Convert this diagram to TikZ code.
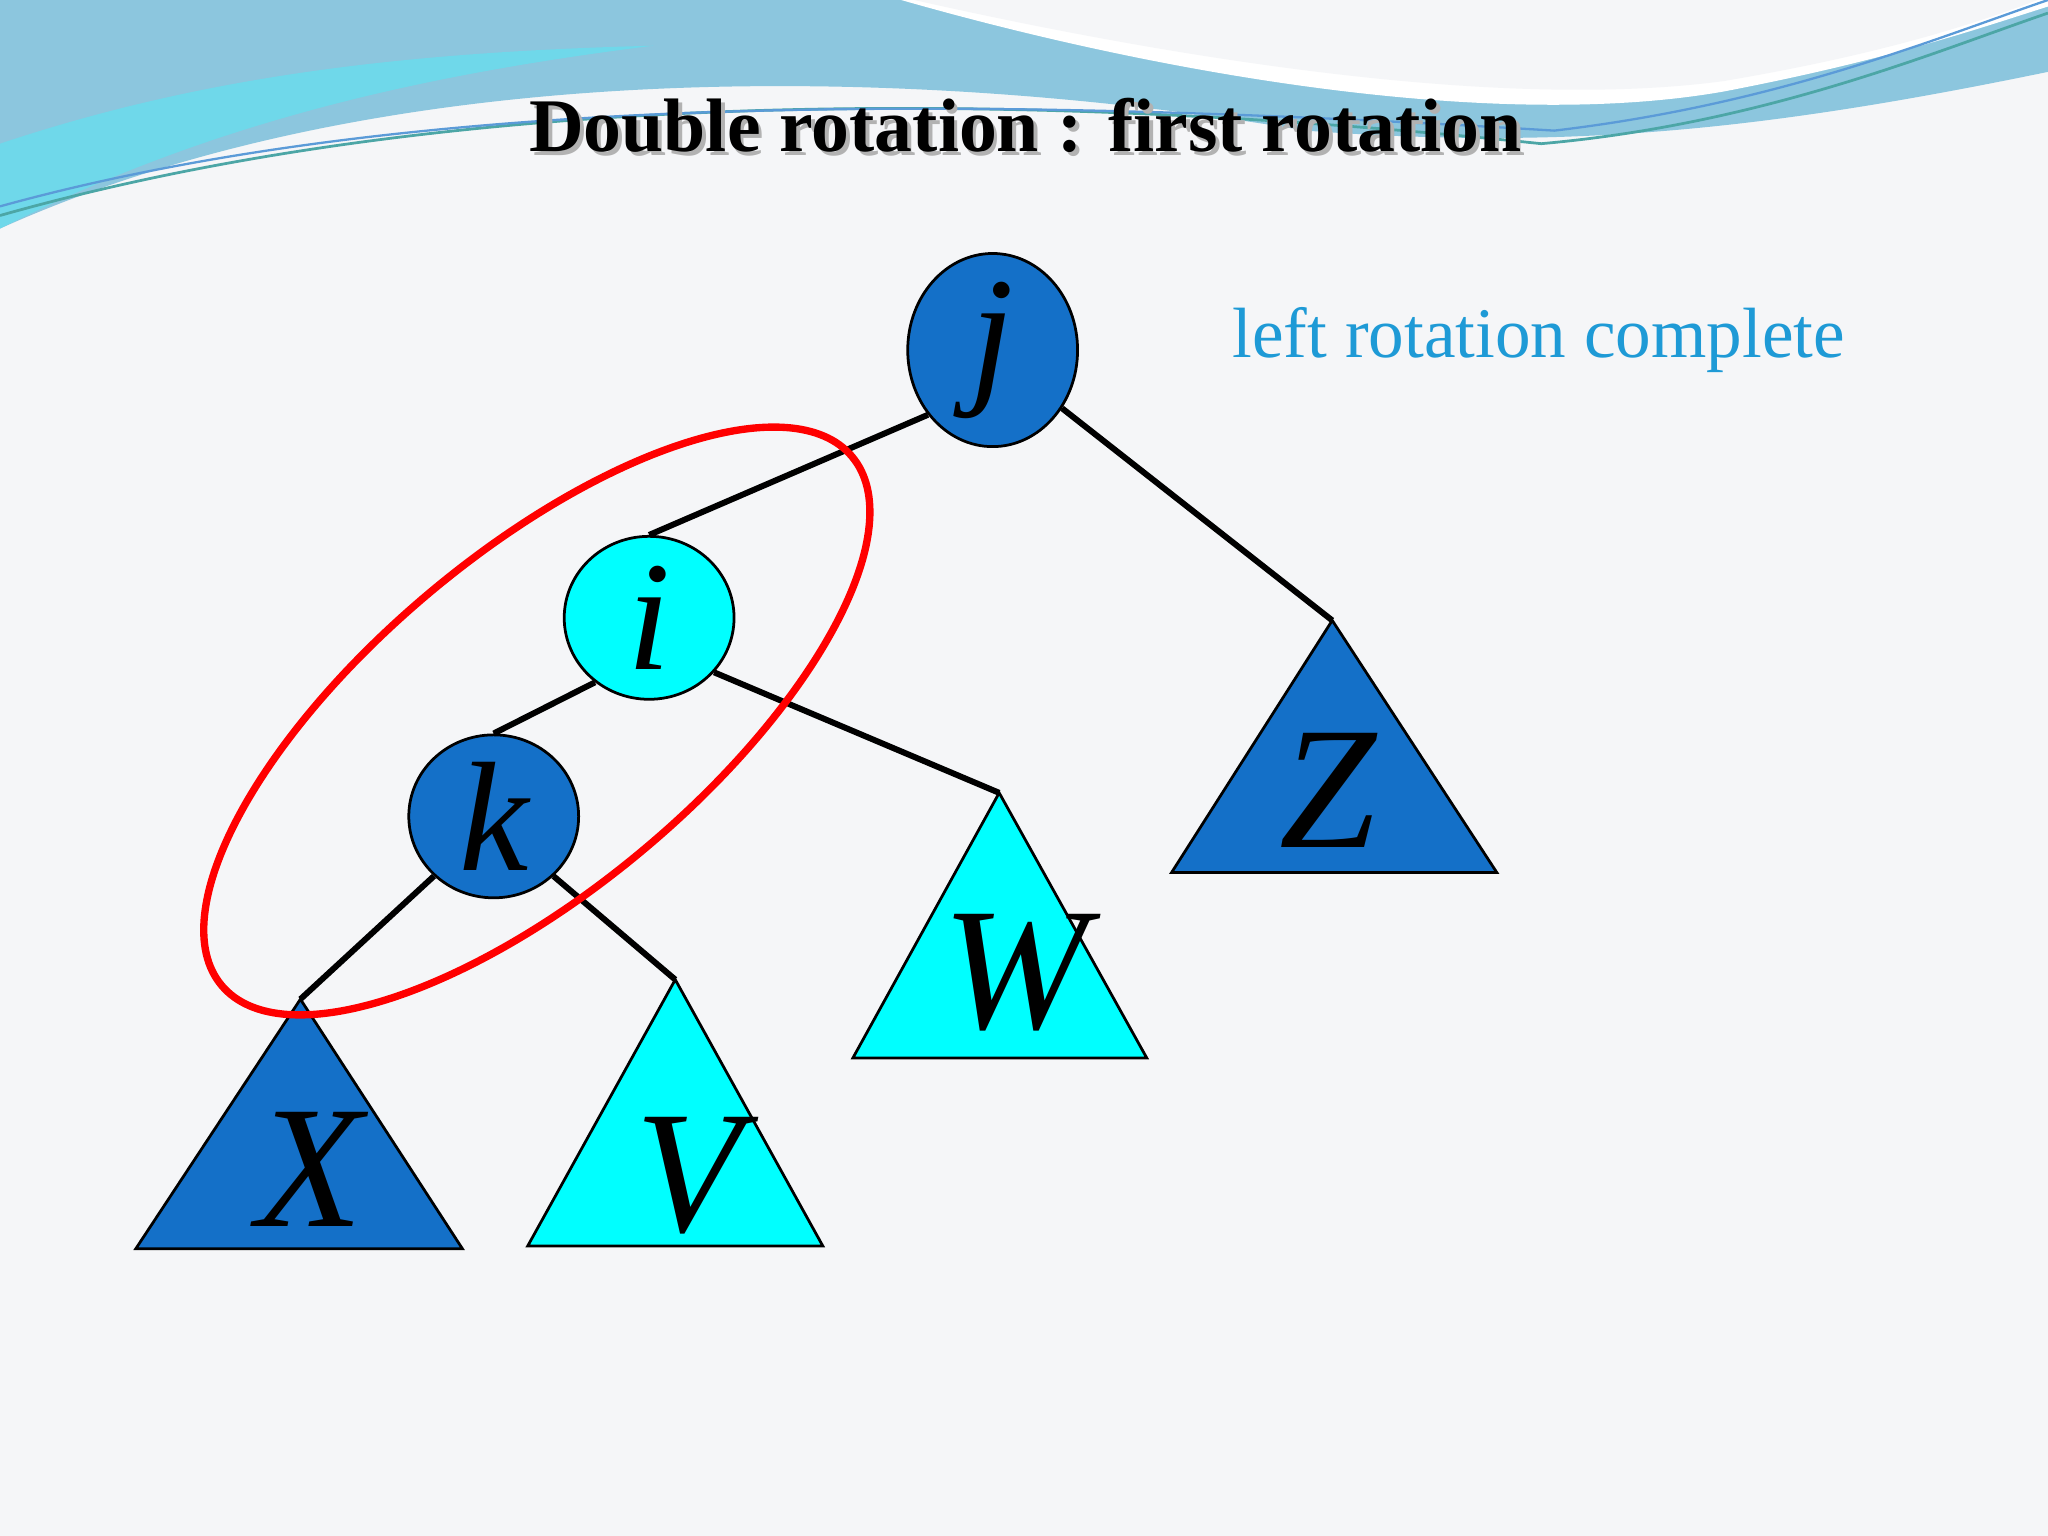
\documentclass[tikz,border=0pt]{standalone}
\usepackage{fontspec}
\setmainfont{Liberation Serif}
\usetikzlibrary{shapes.geometric}
\begin{document}
\begin{tikzpicture}[x=0.1mm,y=-0.1mm,
  dk/.style={fill=blue1,draw=black,line width=0.6pt},
  lt/.style={fill=cyan1,draw=black,line width=0.6pt},
  circ/.style={ellipse,minimum width=37pt,minimum height=35.5pt,inner sep=0pt,font=\fontsize{34}{34}\selectfont\itshape},
  big/.style={font=\fontsize{38}{38}\selectfont\itshape},
  edge/.style={line width=1.3pt,black}]
\definecolor{blue1}{HTML}{1470C8}
\definecolor{cyan1}{HTML}{00FFFF}
\definecolor{bg}{HTML}{F5F6F8}
\definecolor{wave}{HTML}{8CC6DE}
\definecolor{wave2}{HTML}{6FD8EA}
\definecolor{txt}{HTML}{1E9AD6}
\useasboundingbox (0,0) rectangle (1568,1176);
\fill[bg] (0,0) rectangle (1568,1176);
% header waves
\fill[wave] (0,0) -- (1568,0) -- (1568,55) .. controls (1350,100) and (1200,115) .. (1000,100) .. controls (700,50) and (300,40) .. (0,175) -- cycle;
\fill[wave2] (0,110) .. controls (150,60) and (300,40) .. (500,35) .. controls (300,60) and (150,100) .. (0,175) -- cycle;
\fill[white] (690,0) .. controls (900,60) and (1150,100) .. (1320,70) .. controls (1450,45) and (1520,20) .. (1568,5) -- (1568,0) -- cycle;
\fill[bg] (700,0) .. controls (900,45) and (1150,85) .. (1320,62) .. controls (1450,40) and (1520,15) .. (1560,0) -- cycle;
\draw[teal!70,line width=0.6pt] (0,165) .. controls (300,80) and (700,60) .. (1180,110) .. controls (1350,95) and (1480,40) .. (1568,10);
\draw[blue1!70,line width=0.5pt] (0,158) .. controls (300,75) and (700,70) .. (1190,100) .. controls (1360,80) and (1480,30) .. (1568,0);
\node[font=\fontsize{16.5}{16.5}\selectfont\bfseries, text=gray!60] at (788,99) {Double rotation : first rotation};
\node (title) [font=\fontsize{16.5}{16.5}\selectfont\bfseries] at (785,96) {Double rotation : first rotation};
\node (lbl) [text=txt,font=\fontsize{15.5}{15.5}\selectfont] at (1178,260) {left rotation complete};
% apex coordinates
\coordinate (za) at (1020,475);
\coordinate (wa) at (765,607);
\coordinate (xa) at (230,765);
\coordinate (va) at (517,750);
% triangles
\draw[dk] (za) -- (1146,668) -- (897,668) -- cycle;
\draw[lt] (wa) -- (878,810) -- (653,810) -- cycle;
\draw[dk] (xa) -- (354,956) -- (104,956) -- cycle;
\draw[lt] (va) -- (630,954) -- (404,954) -- cycle;
\node (Z) [big] at (1017,605) {Z};
\node (W) [big] at (777,745) {W};
\node (X) [big] at (237,895) {X};
\node (V) [big] at (527,900) {V};
% nodes
\node (j) [circ,dk] at (760,268) {j};
\node (i) [circ,lt] at (497,473) {i};
\node (k) [circ,dk] at (378,625) {k};
\draw[edge] (j.-135) -- (i.north);
\draw[edge] (j.-40) -- (za);
\draw[edge] (i.-130) -- (k.north);
\draw[edge] (i.-40) -- (wa);
\draw[edge] (k.-135) -- (xa);
\draw[edge] (k.-45) -- (va);
% red ellipse
\draw[red,line width=1.6pt,rotate around={40:(411,552)}] (411,552) ellipse [x radius=315,y radius=128];
\end{tikzpicture}
\end{document}
